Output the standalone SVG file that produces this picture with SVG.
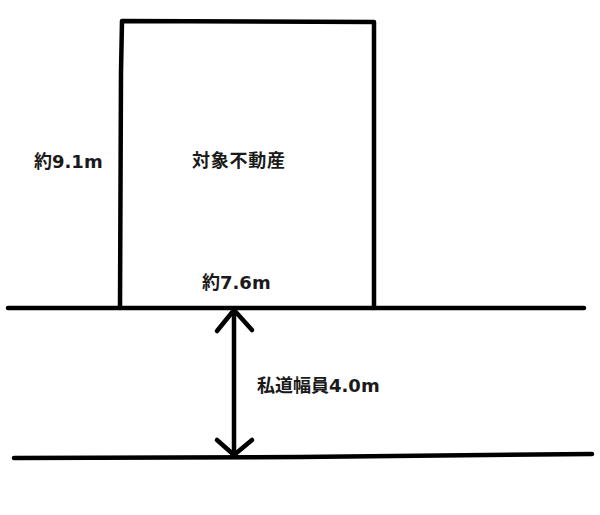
<svg xmlns="http://www.w3.org/2000/svg" width="600" height="515" viewBox="0 0 600 515">
<style>
.ln{fill:none;stroke:#000;stroke-width:4.5;stroke-linecap:round;stroke-linejoin:round}
.t{font-family:"DejaVu Sans","Noto Sans CJK JP",sans-serif;font-weight:bold;font-size:18px;fill:#1a1a1a}
</style>
<rect width="600" height="515" fill="#fff"/>
<g id="property">
<path class="ln" d="M120,308 L121,72 L122,21 L374,22 L374,308"/>
<text class="t" x="192" y="167" textLength="93" lengthAdjust="spacing">対象不動産</text>
</g>
<g id="labels">
<text class="t" x="34" y="168">約9.1m</text>
<text class="t" x="202" y="289">約7.6m</text>
<text class="t" x="257" y="392">私道幅員4.0m</text>
</g>
<g id="connectors">
<path class="ln" d="M8,308 L584,308"/>
<path class="ln" d="M14,458 L300,457 L592,454"/>
<path class="ln" d="M234,310 L234,456"/>
<path class="ln" d="M217,331 L234,310 L252,330"/>
<path class="ln" d="M217,440 L234,455 L252,440"/>
</g>
</svg>
